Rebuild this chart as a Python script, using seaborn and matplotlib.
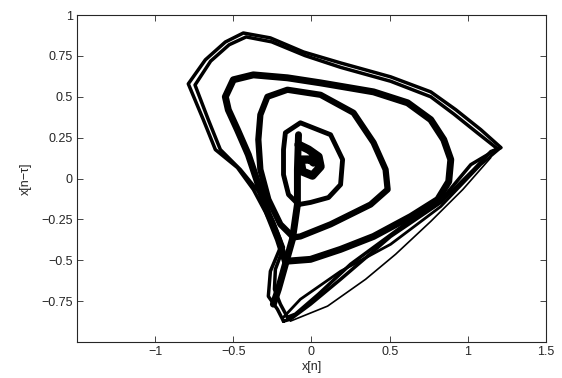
import numpy as np
import pandas as pd
import seaborn as sns
from matplotlib import pyplot as plt

# delay-embedding loops, x[n] and x[n-tau]
# outer loop, outer edge of the bundle
outer_x = [-0.179, -0.218, -0.276, -0.263, -0.199, -0.263, -0.372, -0.474, -0.615,
           -0.692, -0.788, -0.679, -0.551, -0.436, -0.263, -0.051, 0.186, 0.506,
           0.763, 0.923, 1.083, 1.212, 1.147, 1.038, 0.827, 0.506, 0.186, -0.006,
           -0.135, -0.179]
outer_y = [-0.872, -0.799, -0.720, -0.567, -0.421, -0.262, -0.067, 0.067, 0.177,
           0.360, 0.579, 0.726, 0.835, 0.890, 0.860, 0.774, 0.707, 0.622,
           0.530, 0.421, 0.299, 0.189, 0.165, 0.055, -0.146, -0.354, -0.616, -0.768,
           -0.860, -0.872]

# outer loop, inner edge of the bundle
outer2_x = [-0.154, -0.199, -0.237, -0.231, -0.179, -0.244, -0.340, -0.455, -0.583,
            -0.660, -0.745, -0.645, -0.527, -0.418, -0.255, -0.042, 0.186, 0.506,
            0.763, 0.910, 1.060, 1.190, 1.019, 0.859, 0.571, 0.250, 0.045, -0.103,
            -0.154]
outer2_y = [-0.848, -0.768, -0.677, -0.555, -0.421, -0.262, -0.079, 0.055, 0.177,
            0.360, 0.572, 0.718, 0.818, 0.866, 0.836, 0.752, 0.680, 0.595,
            0.500, 0.395, 0.280, 0.182, 0.085, -0.098, -0.299, -0.524, -0.707, -0.829,
            -0.848]

# stray strands under the outer loop
stray_x = [-0.135, 0.103, 0.346, 0.538, 0.763, 0.968, 1.147]
stray_y = [-0.872, -0.780, -0.616, -0.463, -0.262, -0.067, 0.128]
stray2_x = [-0.179, -0.071, 0.186, 0.506, 0.827, 1.083, 1.212]
stray2_y = [-0.848, -0.738, -0.567, -0.402, -0.171, 0.085, 0.189]

# second loop
second_x = [-0.167, -0.212, -0.276, -0.340, -0.404, -0.474, -0.532, -0.551, -0.500,
            -0.372, -0.154, 0.058, 0.397, 0.615, 0.763, 0.846, 0.891, 0.878, 0.808,
            0.635, 0.397, 0.186, -0.006, -0.167]
second_y = [-0.506, -0.372, -0.220, -0.037, 0.146, 0.299, 0.420, 0.500, 0.604,
            0.634, 0.616, 0.585, 0.530, 0.463, 0.360, 0.238, 0.116, -0.018, -0.128,
            -0.232, -0.354, -0.433, -0.494, -0.506]

# third loop
third_x = [-0.115, -0.199, -0.276, -0.327, -0.340, -0.327, -0.282, -0.154, 0.058,
           0.269, 0.397, 0.474, 0.487, 0.378, 0.122, -0.071, -0.115]
third_y = [-0.360, -0.280, -0.128, 0.055, 0.238, 0.390, 0.500, 0.543, 0.512,
           0.402, 0.220, 0.055, -0.067, -0.159, -0.280, -0.354, -0.360]

# fourth loop around the centre
fourth_x = [-0.083, -0.147, -0.179, -0.179, -0.167, -0.071, 0.122, 0.199, 0.186,
            0.109, -0.006, -0.083]
fourth_y = [-0.159, -0.098, 0.024, 0.177, 0.280, 0.341, 0.268, 0.116, -0.037,
            -0.116, -0.146, -0.159]

# stem going down from the centre
stem_x = [-0.083, -0.090, -0.090, -0.122, -0.167, -0.212, -0.244]
stem_y = [0.268, 0.055, -0.159, -0.372, -0.524, -0.677, -0.768]

# small bowl at the centre
bowl_x = [-0.083, -0.019, 0.045, 0.058, 0.006, -0.058, -0.071, -0.006, 0.013]
bowl_y = [0.207, 0.177, 0.134, 0.073, 0.018, 0.043, 0.116, 0.116, 0.098]

loops = {
    "outer": (outer_x, outer_y),
    "outer2": (outer2_x, outer2_y),
    "stray": (stray_x, stray_y),
    "stray2": (stray2_x, stray2_y),
    "second": (second_x, second_y),
    "third": (third_x, third_y),
    "fourth": (fourth_x, fourth_y),
    "stem": (stem_x, stem_y),
    "bowl": (bowl_x, bowl_y),
}
widths = {"outer": 2.5, "outer2": 2.5, "stray": 1.2, "stray2": 2.0, "second": 5.0,
          "third": 4.5, "fourth": 3.5, "stem": 5.0, "bowl": 6.0}

frames = []
for name, (xs, ys) in loops.items():
    frames.append(pd.DataFrame({"x": xs, "y": ys, "loop": name}))
df = pd.concat(frames, ignore_index=True)

sns.set_style("ticks")
plt.rcParams["font.family"] = ["Liberation Sans", "DejaVu Sans"]

fig = plt.figure(figsize=(5.62, 3.78), dpi=100)
ax = fig.add_axes([0.137, 0.095, 0.8345, 0.8653])

sns.lineplot(
    data=df, x="x", y="y", units="loop", size="loop", sizes=widths,
    estimator=None, sort=False, color="k", legend=False, ax=ax,
)

ax.set_xlim(-1.5, 1.5)
ax.set_ylim(-1, 1)
ax.set_xticks([-1, -0.5, 0, 0.5, 1, 1.5])
ax.set_xticklabels(["\u22121", "\u22120.5", "0", "0.5", "1", "1.5"])
ax.set_yticks([-0.75, -0.5, -0.25, 0, 0.25, 0.5, 0.75, 1])
ax.set_yticklabels(["\u22120.75", "\u22120.5", "\u22120.25", "0", "0.25", "0.5", "0.75", "1"])
ax.tick_params(direction="in", length=4, width=0.6, labelsize=9,
               top=True, right=True, pad=3)
for s in ax.spines.values():
    s.set_visible(True)
    s.set_linewidth(0.8)
ax.set_xlabel("x[n]", fontsize=9, labelpad=2)
ax.set_ylabel("x[n\u2212\u03c4]", fontsize=9, labelpad=7)

fig.savefig("out.png", dpi=100)
